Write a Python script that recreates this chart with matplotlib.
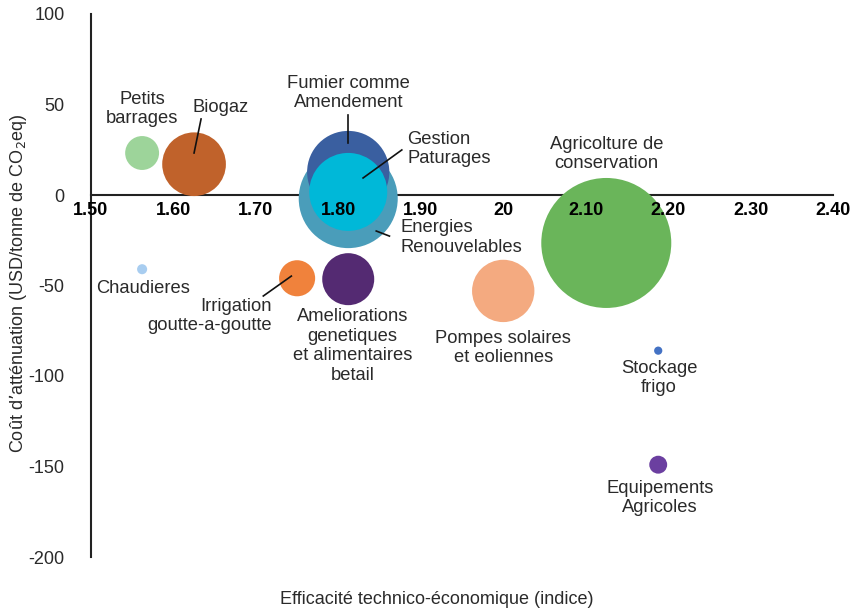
import matplotlib
matplotlib.use("Agg")
import matplotlib.pyplot as plt

plt.rcParams['font.family'] = ['Liberation Sans', 'DejaVu Sans']

# ---- data ----
names = ["Energies\nRenouvelables", "Fumier comme\nAmendement", "Gestion\nPaturages",
         "Petits\nbarrages", "Biogaz", "Chaudieres", "Irrigation\ngoutte-a-goutte",
         "Ameliorations\ngenetiques\net alimentaires\nbetail", "Pompes solaires\net eoliennes",
         "Agricolture de\nconservation", "Stockage\nfrigo", "Equipements\nAgricoles"]
efficiency = [1.812, 1.812, 1.812, 1.562, 1.625, 1.562, 1.750, 1.812, 2.000, 2.125, 2.188, 2.188]
cost = [-2, 12.7, 1.7, 23.2, 17, -41, -46, -46.5, -53, -26.5, -86, -149]
bubble_size = [58, 40, 36, 6.8, 24, 0.6, 7.7, 16, 23, 100, 0.4, 1.9]
colors = ["#4a9dba", "#3a5fa0", "#00b8d8", "#9dd49a", "#c0622b", "#a8cdf0", "#f0823c",
          "#542a72", "#f4aa80", "#6ab55a", "#4472c4", "#6b3fa0"]

x_ticks = [1.50, 1.60, 1.70, 1.80, 1.90, 2.00, 2.10, 2.20, 2.30, 2.40]
x_tick_labels = ["1.50", "1.60", "1.70", "1.80", "1.90", "20", "2.10", "2.20", "2.30", "2.40"]
y_ticks = [-200, -150, -100, -50, 0, 50, 100]

# ---- label placement (text position, alignment, optional leader line) ----
label_pos = [(1.875, -23.5, 'left'), (1.812, 56.4, 'center'), (1.8835, 25.4, 'left'),
             (1.562, 47.5, 'center'), (1.657, 48.6, 'center'), (1.563, -51.4, 'center'),
             (1.7197, -66.9, 'right'), (1.817, -83.4, 'center'), (2.0, -84.5, 'center'),
             (2.125, 22.7, 'center'), (2.189, -101, 'center'), (2.19, -167.4, 'center')]
leaders = [((1.846, -19.9), (1.862, -22.7)), ((1.812, 44.2), (1.812, 28.7)),
           ((1.877, 24.9), (1.830, 9.4)), None, ((1.6335, 42), (1.625, 23.2)), None,
           ((1.709, -55.8), (1.743, -44.8)), None, None, None, None, None]

fig = plt.figure(figsize=(8.59, 6.11), dpi=100)
ax = fig.add_axes([91/859, 1-557/611, (833-91)/859, (557-14)/611])

ax.spines['top'].set_visible(False)
ax.spines['right'].set_visible(False)
ax.spines['bottom'].set_position(('data', 0))
for sp in ('left', 'bottom'):
    ax.spines[sp].set_color('#222222')
    ax.spines[sp].set_linewidth(1.5)
    ax.spines[sp].set_zorder(2)

s_max = 8761.0
sizes = [b / 100.0 * s_max for b in bubble_size]
for xi, yi, si, ci in zip(efficiency, cost, sizes, colors):
    ax.scatter([xi], [yi], s=si, color=ci, edgecolors='none', zorder=3)

for (tx, ty, ha), name, ld in zip(label_pos, names, leaders):
    ax.text(tx, ty, name, ha=ha, va='center', fontsize=13.2, color='#2a2a2a',
            linespacing=1.2, zorder=6)
    if ld is not None:
        ax.plot([ld[0][0], ld[1][0]], [ld[0][1], ld[1][1]], color='#111111', lw=1.2, zorder=6)

ax.set_xlim(1.50, 2.40)
ax.set_ylim(-200, 100)
ax.set_xticks(x_ticks)
ax.set_xticklabels(x_tick_labels, fontweight='bold', fontsize=13, color='black')
ax.set_yticks(y_ticks)
ax.set_yticklabels([str(v) for v in y_ticks], fontsize=13, color='#2a2a2a')
ax.tick_params(axis='both', length=0)
ax.tick_params(axis='x', pad=5)
ax.tick_params(axis='y', pad=19)
ax.xaxis.set_zorder(5)
ax.yaxis.set_zorder(5)

fig.text(18/859, 1-283/611, "Coût d\u2019atténuation (USD/tonne de CO$_2$eq)", rotation=90,
         ha='center', va='center', fontsize=13, color='#2a2a2a')
fig.text(437/859, 1-600/611, "Efficacité technico-économique (indice)",
         ha='center', va='center', fontsize=13, color='#2a2a2a')

fig.savefig("out.png", dpi=100)
